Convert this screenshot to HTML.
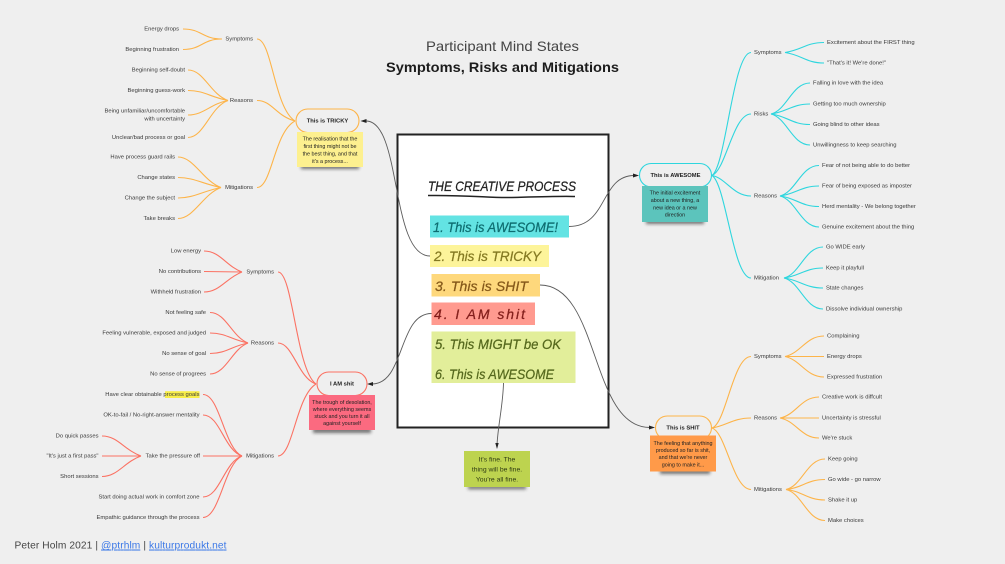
<!DOCTYPE html>
<html><head><meta charset="utf-8">
<style>
html,body{margin:0;padding:0;background:#efefef}
svg{display:block}
text{font-family:"Liberation Sans",sans-serif}
.t text{font-size:5.85px;fill:#3a3a3a;dominant-baseline:central}
.e{text-anchor:end}
.s text{font-size:5.4px;fill:#222;text-anchor:middle}
.p{font-size:5.8px;font-weight:bold;fill:#222;text-anchor:middle;dominant-baseline:central}
.h{font-style:italic;font-size:14px;stroke-width:.25}
.o path{fill:none;stroke:#fdb44a;stroke-width:1.1}
.r path{fill:none;stroke:#fb7264;stroke-width:1.1}
.c path{fill:none;stroke:#2fd6de;stroke-width:1.1}
.g path{fill:none;stroke:#5c5c5c;stroke-width:.9}
</style></head><body>
<svg width="1005" height="564" viewBox="0 0 1005 564" xmlns="http://www.w3.org/2000/svg">
<defs>
<filter id="b" x="-30%" y="-100%" width="160%" height="300%"><feGaussianBlur stdDeviation="1.5"/></filter>
<filter id="soft" filterUnits="userSpaceOnUse" x="0" y="0" width="1005" height="564"><feGaussianBlur stdDeviation="0.35"/></filter>
</defs>
<rect width="1005" height="564" fill="#efefef"/>
<g filter="url(#soft)">
<!-- title -->
<text x="502.500" y="51" text-anchor="middle" font-size="14" fill="#444" textLength="153" lengthAdjust="spacingAndGlyphs">Participant Mind States</text>
<text x="502.500" y="72" text-anchor="middle" font-size="14" font-weight="bold" fill="#1f1f1f" textLength="233" lengthAdjust="spacingAndGlyphs">Symptoms, Risks and Mitigations</text>

<!-- main box -->
<rect x="397.500" y="134.500" width="211" height="293" fill="#fff" stroke="#222" stroke-width="2"/>
<text class="h" x="428" y="191" fill="#222" stroke="#222" textLength="148" lengthAdjust="spacingAndGlyphs">THE CREATIVE PROCESS</text>
<path d="M428 195.500 C470 195 490 198 510 197.500 S560 196 575 196.500" fill="none" stroke="#222" stroke-width="1.5"/>
<rect x="430" y="215.500" width="139" height="22" fill="#63e3e3"/>
<text class="h" x="433" y="232" fill="#0f6d70" stroke="#0f6d70" textLength="125" lengthAdjust="spacingAndGlyphs">1. This is AWESOME!</text>
<rect x="430" y="245" width="119" height="22" fill="#fdf49a"/>
<text class="h" x="434" y="261" fill="#857a22" stroke="#857a22" textLength="107" lengthAdjust="spacingAndGlyphs">2. This is TRICKY</text>
<rect x="431.500" y="274" width="108.500" height="22.500" fill="#fed87c"/>
<text class="h" x="435" y="291" fill="#85591a" stroke="#85591a" textLength="93" lengthAdjust="spacing">3. This is SHIT</text>
<rect x="431.500" y="302.500" width="103.500" height="22.500" fill="#ff9a8f"/>
<text class="h" x="434" y="319" fill="#84201c" stroke="#84201c" textLength="91" lengthAdjust="spacing">4. I AM shit</text>
<rect x="431.500" y="331.500" width="144" height="51.500" fill="#e2ee9a"/>
<text class="h" x="435" y="349" fill="#55681d" stroke="#55681d" textLength="126" lengthAdjust="spacingAndGlyphs">5. This MIGHT be OK</text>
<text class="h" x="435" y="379" fill="#55681d" stroke="#55681d" textLength="119" lengthAdjust="spacingAndGlyphs">6. This is AWESOME</text>

<!-- gray connectors -->
<g class="g">
<path d="M569 226.500 C608 226.500 600 176 634 175.500"/>
<path d="M430 256 C390 256 402 121 366 121"/>
<path d="M540 285 C600 285 590 428 650 427.500"/>
<path d="M431.500 313.500 C398 313.500 405 384 372 384"/>
<path d="M503.500 383 C503 405 498 425 497 445"/>
</g>
<g fill="#222">
<path d="M639 175.500 L633 173.500 L633 177.500Z"/>
<path d="M360.500 121 L366.500 119 L366.500 123Z"/>
<path d="M655 427.500 L649 425.500 L649 429.500Z"/>
<path d="M367 384 L373 382 L373 386Z"/>
<path d="M497 449 L495.300 443 L498.700 443Z"/>
</g>

<!-- TRICKY -->
<g class="o">
<path d="M257 39 C272 39 274 108 295 121"/>
<path d="M257 100.500 C272 100.500 276 116 295 121"/>
<path d="M257 187.500 C272 187.500 274 132 295 121"/>
<path d="M183 29 C202 29 202 39 222 39"/>
<path d="M183 49.500 C202 49.500 202 39 222 39"/>
<path d="M188 70 C204 70 210 94 228 100.500"/>
<path d="M188 90.500 C204 90.500 210 97 228 100.500"/>
<path d="M188 115 C204 115 210 104 228 100.500"/>
<path d="M188 137.500 C204 137.500 210 107 228 100.500"/>
<path d="M178 157 C194 157 203 181 221 187.500"/>
<path d="M178 177.500 C194 177.500 203 184 221 187.500"/>
<path d="M178 198 C194 198 203 191 221 187.500"/>
<path d="M178 218.500 C194 218.500 203 194 221 187.500"/>
</g>
<g class="t">
<text class="e" x="253" y="39.500">Symptoms</text>
<text class="e" x="253" y="101">Reasons</text>
<text class="e" x="253" y="188">Mitigations</text>
<text class="e" x="179" y="29.500">Energy drops</text>
<text class="e" x="179" y="50">Beginning frustration</text>
<text class="e" x="185" y="70.500">Beginning self-doubt</text>
<text class="e" x="185" y="91">Beginning guess-work</text>
<text class="e" x="185" y="111.500">Being unfamiliar/uncomfortable</text>
<text class="e" x="185" y="119.500">with uncertainty</text>
<text class="e" x="185" y="138">Unclear/bad process or goal</text>
<text class="e" x="175" y="157.500">Have process guard rails</text>
<text class="e" x="175" y="178">Change states</text>
<text class="e" x="175" y="198.500">Change the subject</text>
<text class="e" x="175" y="219">Take breaks</text>
</g>
<rect x="296" y="109" width="63" height="23.500" rx="11.700" fill="#efefef" stroke="#fdb44a" stroke-width="1.1"/>
<text class="p" x="327.500" y="121.500">This is TRICKY</text>
<rect x="301" y="164" width="58" height="5" fill="#333" opacity=".65" filter="url(#b)"/>
<rect x="297" y="132" width="66" height="35" fill="#fdf08f"/>
<g class="s"><text x="330" y="140.500">The realisation that the</text><text x="330" y="147.800">first thing might not be</text><text x="330" y="155.300">the best thing, and that</text><text x="330" y="162.800">it's a process...</text></g>

<!-- I AM shit -->
<g class="r">
<path d="M278 272 C293 272 296 370 316 384"/>
<path d="M278 343 C293 343 298 378 316 384"/>
<path d="M278 456 C293 456 296 396 316 384"/>
<path d="M204 251 C220 251 226 266 242 272"/>
<path d="M204 271.500 L242 272"/>
<path d="M204 292 C220 292 226 278 242 272"/>
<path d="M210 312.500 C226 312.500 232 337 248 343"/>
<path d="M210 333 C226 333 232 340 248 343"/>
<path d="M210 353.500 C226 353.500 232 346 248 343"/>
<path d="M210 374 C226 374 232 349 248 343"/>
<path d="M203 394.500 C220 394.500 224 448 242 456"/>
<path d="M203 415 C220 415 224 450 242 456"/>
<path d="M203 456 L242 456"/>
<path d="M203 497 C220 497 224 462 242 456"/>
<path d="M203 517.500 C220 517.500 224 464 242 456"/>
<path d="M102 436 C118 436 124 450 141 456"/>
<path d="M102 456 L141 456"/>
<path d="M102 476.500 C118 476.500 124 462 141 456"/>
</g>
<rect x="165" y="391.200" width="34.500" height="6.800" fill="#f8ee4a"/>
<g class="t">
<text class="e" x="274" y="272.500">Symptoms</text>
<text class="e" x="274" y="343.500">Reasons</text>
<text class="e" x="274" y="456.500">Mitigations</text>
<text class="e" x="201" y="251.500">Low energy</text>
<text class="e" x="201" y="272">No contributions</text>
<text class="e" x="201" y="292.500">Withheld frustration</text>
<text class="e" x="206" y="313">Not feeling safe</text>
<text class="e" x="206" y="333.500">Feeling vulnerable, exposed and judged</text>
<text class="e" x="206" y="354">No sense of goal</text>
<text class="e" x="206" y="374.500">No sense of progrees</text>
<text class="e" x="199.500" y="395">Have clear obtainable process goals</text>
<text class="e" x="199.500" y="415.500">OK-to-fail / No-right-answer mentality</text>
<text class="e" x="200" y="456.500">Take the pressure off</text>
<text class="e" x="199.500" y="497.500">Start doing actual work in comfort zone</text>
<text class="e" x="199.500" y="518">Empathic guidance through the process</text>
<text class="e" x="98.500" y="436.500">Do quick passes</text>
<text class="e" x="98.500" y="456.500">"It's just a first pass"</text>
<text class="e" x="98.500" y="477">Short sessions</text>
</g>
<rect x="317" y="372" width="50" height="23.500" rx="11.700" fill="#efefef" stroke="#fb7264" stroke-width="1.1"/>
<text class="p" x="342" y="384.500">I AM shit</text>
<rect x="313" y="428" width="58" height="5" fill="#333" opacity=".65" filter="url(#b)"/>
<rect x="309" y="395" width="66" height="35" fill="#fb6a80"/>
<g class="s"><text x="342" y="403.800">The trough of desolation,</text><text x="342" y="410.800">where everything seems</text><text x="342" y="418">stuck and you turn it all</text><text x="342" y="425">against yourself</text></g>

<!-- AWESOME -->
<g class="c">
<path d="M712 175.500 C726 166 733 52.500 751 52.500"/>
<path d="M712 175.500 C726 170 733 114 751 114"/>
<path d="M712 175.500 C726 178 733 196 751 196"/>
<path d="M712 175.500 C726 184 733 278 751 278"/>
<path d="M785 52.500 C802 50 806 42.500 824 42.500"/>
<path d="M785 52.500 C802 55 806 63 824 63"/>
<path d="M771 114 C787 110 792 83 810 83"/>
<path d="M771 114 C787 112 792 104 810 104"/>
<path d="M771 114 C787 116 792 124.500 810 124.500"/>
<path d="M771 114 C787 118 792 145 810 145"/>
<path d="M780 196 C796 192 801 165.500 819 165.500"/>
<path d="M780 196 C796 194 801 186 819 186"/>
<path d="M780 196 C796 198 801 206.500 819 206.500"/>
<path d="M780 196 C796 200 801 227 819 227"/>
<path d="M784 278 C800 274 805 247 823 247"/>
<path d="M784 278 C800 276 805 268 823 268"/>
<path d="M784 278 C800 280 805 288 823 288"/>
<path d="M784 278 C800 282 805 309 823 309"/>
</g>
<g class="t">
<text x="754" y="53">Symptoms</text>
<text x="754" y="114.500">Risks</text>
<text x="754" y="196.500">Reasons</text>
<text x="754" y="278.500">Mitigation</text>
<text x="827" y="43">Excitement about the FIRST thing</text>
<text x="827" y="63.500">"That's it! We're done!"</text>
<text x="813" y="83.500">Falling in love with the idea</text>
<text x="813" y="104.500">Getting too much ownership</text>
<text x="813" y="125">Going blind to other ideas</text>
<text x="813" y="145.500">Unwillingness to keep searching</text>
<text x="822" y="166">Fear of not being able to do better</text>
<text x="822" y="186.500">Fear of being exposed as imposter</text>
<text x="822" y="207">Herd mentality - We belong together</text>
<text x="822" y="227.500">Genuine excitement about the thing</text>
<text x="826" y="247.500">Go WIDE early</text>
<text x="826" y="268.500">Keep it playfull</text>
<text x="826" y="288.500">State changes</text>
<text x="826" y="309.500">Dissolve individual ownership</text>
</g>
<rect x="639.500" y="163.500" width="72" height="23.500" rx="11.700" fill="#efefef" stroke="#2fd6de" stroke-width="1.1"/>
<text class="p" x="675.500" y="176">This is AWESOME</text>
<rect x="646" y="219" width="58" height="5" fill="#333" opacity=".65" filter="url(#b)"/>
<rect x="642" y="186" width="66" height="36" fill="#5bc4bc"/>
<g class="s"><text x="675" y="194.500">The initial excitement</text><text x="675" y="202">about a new thing, a</text><text x="675" y="209.500">new idea or a new</text><text x="675" y="216.500">direction</text></g>

<!-- SHIT -->
<g class="o">
<path d="M712 428 C726 424 733 356.500 751 356.500"/>
<path d="M712 428 C726 426 733 418 751 418"/>
<path d="M712 428 C726 432 733 489.500 751 489.500"/>
<path d="M785 356.500 C801 353 806 336 824 336"/>
<path d="M785 356.500 L824 356.500"/>
<path d="M785 356.500 C801 360 806 377 824 377"/>
<path d="M780 418 C796 415 801 397 819 397"/>
<path d="M780 418 L819 418"/>
<path d="M780 418 C796 421 801 438 819 438"/>
<path d="M786 489.500 C802 486 807 459 825 459"/>
<path d="M786 489.500 C802 488 807 479.500 825 479.500"/>
<path d="M786 489.500 C802 491 807 500 825 500"/>
<path d="M786 489.500 C802 493 807 520.500 825 520.500"/>
</g>
<g class="t">
<text x="754" y="357">Symptoms</text>
<text x="754" y="418.500">Reasons</text>
<text x="754" y="490">Mitigations</text>
<text x="827" y="336.500">Complaining</text>
<text x="827" y="357">Energy drops</text>
<text x="827" y="377.500">Expressed frustration</text>
<text x="822" y="397.500">Creative work is diffcult</text>
<text x="822" y="418.500">Uncertainty is stressful</text>
<text x="822" y="438.500">We're stuck</text>
<text x="828" y="459.500">Keep going</text>
<text x="828" y="480">Go wide - go narrow</text>
<text x="828" y="500.500">Shake it up</text>
<text x="828" y="521">Make choices</text>
</g>
<rect x="655.500" y="416" width="56" height="23.500" rx="11.700" fill="#efefef" stroke="#fdb44a" stroke-width="1.1"/>
<text class="p" x="683" y="428.500">This is SHIT</text>
<rect x="660" y="469" width="50" height="5" fill="#333" opacity=".65" filter="url(#b)"/>
<rect x="650" y="435.500" width="66" height="36" fill="#ff9a4a"/>
<g class="s"><text x="683" y="444.800">The feeling that anything</text><text x="683" y="451.800">produced so far is shit,</text><text x="683" y="459">and that we're never</text><text x="683" y="466.300">going to make it...</text></g>

<!-- fine -->
<rect x="468" y="485" width="58" height="4.500" fill="#333" opacity=".6" filter="url(#b)"/>
<rect x="464" y="451" width="66" height="36" fill="#bdd34f"/>
<g text-anchor="middle" font-size="6.800" fill="#2f3b14">
<text x="497" y="461.300">It's fine. The</text><text x="497" y="471.300">thing will be fine.</text><text x="497" y="481.300">You're all fine.</text>
</g>

<!-- footer -->
<text x="14.500" y="548.500" font-size="10.200" fill="#444" textLength="212" lengthAdjust="spacing">Peter Holm 2021 | <tspan fill="#3b78e7" text-decoration="underline">@ptrhlm</tspan> | <tspan fill="#3b78e7" text-decoration="underline">kulturprodukt.net</tspan></text>
</g>
</svg>
</body></html>
